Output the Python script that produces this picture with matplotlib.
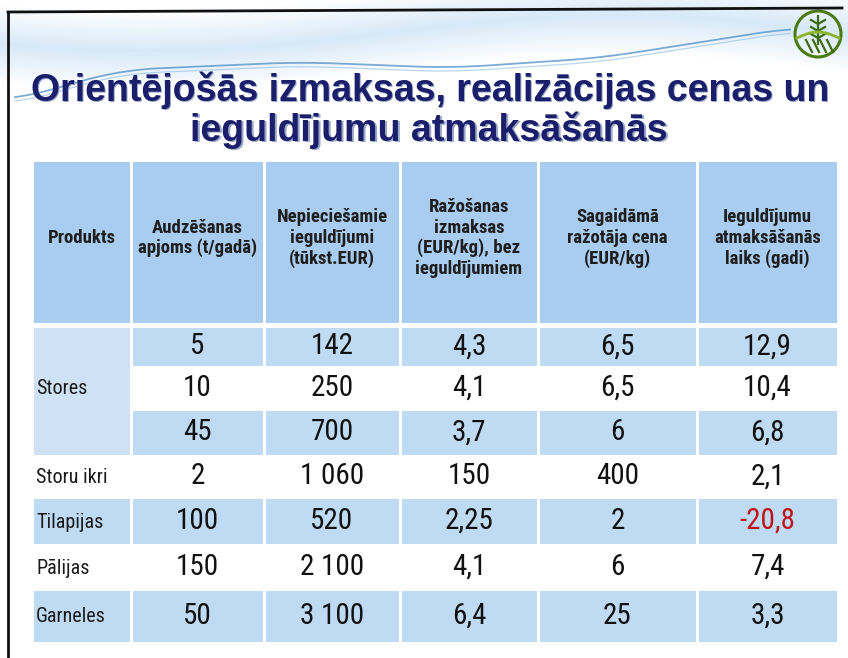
import numpy as np
import matplotlib
matplotlib.use('Agg')
import matplotlib.pyplot as plt
from matplotlib.patches import Rectangle, Circle

# --- data ---
headers = ['Produkts', 'Audzēšanas\napjoms (t/gadā)', 'Nepieciešamie\nieguldījumi\n(tūkst.EUR)',
           'Ražošanas\nizmaksas\n(EUR/kg), bez\nieguldījumiem', 'Sagaidāmā\nražotāja cena\n(EUR/kg)',
           'Ieguldījumu\natmaksāšanās\nlaiks (gadi)']
products = ['Stores', 'Stores', 'Stores', 'Storu ikri', 'Tilapijas', 'Pālijas', 'Garneles']
volume = ['5', '10', '45', '2', '100', '150', '50']
investment = ['142', '250', '700', '1 060', '520', '2 100', '3 100']
prod_cost = ['4,3', '4,1', '3,7', '150', '2,25', '4,1', '6,4']
price = ['6,5', '6,5', '6', '400', '2', '6', '25']
payback = ['12,9', '10,4', '6,8', '2,1', '-20,8', '7,4', '3,3']

title1 = 'Orientējošās izmaksas, realizācijas cenas un'
title2 = 'ieguldījumu atmaksāšanās'

# --- layout (pixels) ---
col_edges = [32, 131, 264, 400, 538, 697, 838]
header_top, header_bot = 162, 324
row_edges = [326, 367, 409, 456, 497, 545, 589, 643]

narrow = ['Roboto Condensed', 'DejaVu Sans']

W, H = 848, 658
fig = plt.figure(figsize=(W / 100, H / 100), dpi=100)
ax = fig.add_axes([0, 0, 1, 1])
ax.set_xlim(0, W)
ax.set_ylim(H, 0)
ax.axis('off')

# faint blue wave band at the top
yy, xx = np.mgrid[0:95, 0:W]
wave = 45 + 18 * np.sin(xx / W * 2 * np.pi * 0.9 + 0.6)
alpha = np.clip(1 - np.abs(yy - wave + 12) / 40, 0, 1) * 0.35
band = np.zeros((95, W, 4))
band[..., 0], band[..., 1], band[..., 2] = 0.55, 0.75, 0.92
band[..., 3] = alpha
ax.imshow(band, extent=[0, W, 95, 0], zorder=0)

# decorative wave line (smoothed through a few guide points)
gx = [15, 120, 300, 450, 600, 790]
gy = [100, 70, 62, 68, 58, 28]
xs = np.linspace(15, 790, 400)
ys = np.interp(xs, gx, gy)
k = np.ones(41) / 41
ys = np.convolve(np.pad(ys, 20, mode='edge'), k, mode='valid')
ax.plot(xs, ys, color='#4f8fc8', lw=1.3, alpha=0.75)
ax.plot(xs, ys + 4, color='#8dbbe2', lw=0.9, alpha=0.6)

# slide border
ax.plot([8, 842], [12, 8], color='#111111', lw=2)
ax.plot([8, 8], [12, H], color='#111111', lw=2)

# logo
ax.add_patch(Circle((818, 34), 23, fill=False, ec='#4a7a12', lw=2.2))
ax.plot([818, 818], [16, 44], color='#3d6b10', lw=1.6)
for dy in (20, 27, 34):
    ax.plot([818, 811], [dy + 4, dy], color='#3d6b10', lw=1.6)
    ax.plot([818, 825], [dy + 4, dy], color='#3d6b10', lw=1.6)
xs = np.linspace(797, 839, 50)
ax.plot(xs, 38 - 6 * np.sin((xs - 797) / 42 * np.pi), color='#8ab52a', lw=2)
for x0 in (806, 813, 820, 827):
    ax.plot([x0, x0 + 6], [40, 52], color='#3d6b10', lw=1.6)

# title
tkw = dict(ha='center', va='center', fontsize=27, fontweight='bold', family='Liberation Sans')
for dx, c in ((1.5, '#9aa7c6'), (0, '#1b1f6b')):
    ax.text(430 + dx, 90 + dx, title1, color=c, **tkw)
    ax.text(429 + dx, 130 + dx, title2, color=c, **tkw)

HEAD = '#a9cdf0'
BAND = '#bfdaf3'
FIRST = '#cfe2f5'
g = 1.5

# header cells
for i, h in enumerate(headers):
    x0, x1 = col_edges[i], col_edges[i + 1]
    ax.add_patch(Rectangle((x0 + g, header_top), x1 - x0 - 2 * g, header_bot - header_top - g,
                           fc=HEAD, ec='none', zorder=1))
    ax.text((x0 + x1) / 2, (header_top + header_bot) / 2 - 5, h, ha='center', va='center',
            fontsize=13.5, fontweight='bold', family=narrow, color='#1e1e1e', linespacing=1.15, zorder=3)

# merged "Stores" cell
ax.add_patch(Rectangle((col_edges[0] + g, row_edges[0] + g), col_edges[1] - col_edges[0] - 2 * g,
                       row_edges[3] - row_edges[0] - 2 * g, fc=FIRST, ec='none', zorder=1))

columns = [volume, investment, prod_cost, price, payback]
for r in range(len(products)):
    y0, y1 = row_edges[r], row_edges[r + 1]
    yc = (y0 + y1) / 2
    if r % 2 == 0:
        start = 1 if r < 3 else 0
        for c in range(start, 6):
            x0, x1 = col_edges[c], col_edges[c + 1]
            ax.add_patch(Rectangle((x0 + g, y0 + g), x1 - x0 - 2 * g, y1 - y0 - 2 * g,
                                   fc=BAND, ec='none', zorder=1))
    if r >= 3 or r == 1:
        ax.text(col_edges[0] + 4, yc + 1, products[r], ha='left', va='center', fontsize=14.5,
                family=narrow, color='#1a1a1a', zorder=3)
    for c, vals in enumerate(columns):
        x0, x1 = col_edges[c + 1], col_edges[c + 2]
        v = vals[r]
        col = '#c0121a' if v.startswith('-') else '#111111'
        ax.text((x0 + x1) / 2, yc, v, ha='center', va='center', fontsize=21,
                family=narrow, color=col, zorder=3)

fig.savefig('out.png', dpi=100)
